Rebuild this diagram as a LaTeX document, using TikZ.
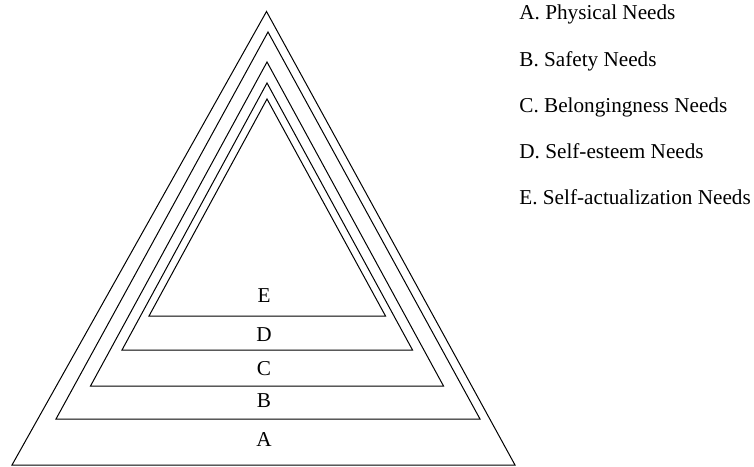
\documentclass[tikz,border=0pt]{standalone}
\usepackage{fontspec}
\setmainfont{Liberation Serif}
\usetikzlibrary{positioning}
\definecolor{ink}{HTML}{000000}

\begin{document}
\begin{tikzpicture}[
  x=0.5pt, y=-0.5pt, ink,
  font=\fontsize{10.6}{12}\selectfont,
  tri/.style={draw=ink, line width=0.5pt, line join=miter},
  lvl/.style={inner sep=0pt, anchor=base},
  legend/.style={inner sep=0pt, anchor=base west},
]
\useasboundingbox (0,0) rectangle (754,466);

% ---- nested triangles, outer to inner ---------------------------------------
\draw[tri] (12,465)  -- (266.5,11.5) -- (515,465)   -- cycle;
\draw[tri] (56,419)  -- (268,32)     -- (480,419)   -- cycle;
\draw[tri] (90.5,386)-- (267,62)     -- (443.5,386) -- cycle;
\draw[tri] (122,350) -- (267,83)     -- (412.5,350) -- cycle;
\draw[tri] (149,316) -- (267,99)     -- (385.5,316) -- cycle;

% ---- layer letters ------------------------------------------------------------
\node[lvl] (labE) at (264,302) {E};
\node[lvl] (labD) at (264,341) {D};
\node[lvl] (labC) at (264,375) {C};
\node[lvl] (labB) at (264,407) {B};
\node[lvl] (labA) at (264,446) {A};

% ---- legend -------------------------------------------------------------------
\node[legend] (legA) at (519,19.5)  {A. Physical Needs};
\node[legend] (legB) at (519,66)    {B. Safety Needs};
\node[legend] (legC) at (519,112.5) {C. Belongingness Needs};
\node[legend] (legD) at (519,158.5) {D. Self-esteem Needs};
\node[legend] (legE) at (519,204.5) {E. Self-actualization Needs};

\end{tikzpicture}
\end{document}
